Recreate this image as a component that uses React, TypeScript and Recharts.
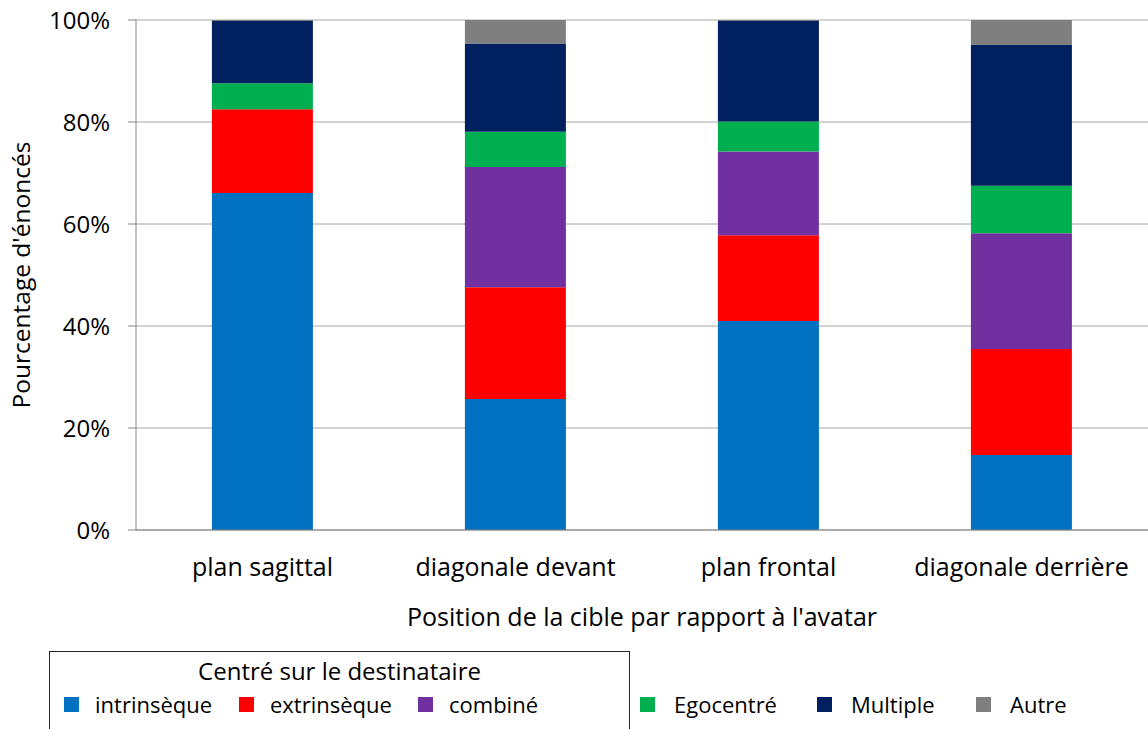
import { BarChart, Bar, XAxis, YAxis, CartesianGrid, Label } from "recharts";

const positions = ["plan sagittal", "diagonale devant", "plan frontal", "diagonale derrière"];
const intrinseque = [66.1, 25.7, 41.0, 14.7];
const extrinseque = [16.4, 21.9, 16.8, 20.8];
const combine = [0, 23.6, 16.4, 22.7];
const egocentre = [5.1, 6.9, 5.9, 9.3];
const multiple = [12.2, 17.3, 19.7, 27.7];
const autre = [0.2, 4.6, 0.2, 4.8];
const yTicks = [0, 20, 40, 60, 80, 100];

const series = [
  { key: "intrinseque", name: "intrinsèque", color: "#0070C0", values: intrinseque },
  { key: "extrinseque", name: "extrinsèque", color: "#FF0000", values: extrinseque },
  { key: "combine", name: "combiné", color: "#7030A0", values: combine },
  { key: "egocentre", name: "Egocentré", color: "#00B050", values: egocentre },
  { key: "multiple", name: "Multiple", color: "#002060", values: multiple },
  { key: "autre", name: "Autre", color: "#7F7F7F", values: autre },
];

// legend column starts (px), as Excel laid them out
const legendLeft = [64, 239, 418, 640, 817, 976];

const data = positions.map((p, i) => {
  const row: Record<string, string | number> = { position: p };
  series.forEach((s) => (row[s.key] = s.values[i]));
  return row;
});

const font = "'Open Sans', sans-serif";
const axisGrey = "#868686";

export default function App() {
  return (
    <div style={{ position: "absolute", left: 0, top: 0, width: 1148, height: 729, overflow: "hidden", background: "#fff", fontFamily: font }}>
      <BarChart width={1148} height={729} data={data} margin={{ top: 20, right: 0, left: 0, bottom: 99 }} barCategoryGap="30%">
        <CartesianGrid vertical={false} stroke="#a6a6a6" />
        <XAxis xAxisId="edge" type="number" domain={[0, 4]} ticks={[0, 1, 2, 3, 4]} height={0} axisLine={false} tickSize={8} tickLine={{ stroke: axisGrey }} tickFormatter={() => ""} />
        <XAxis dataKey="position" height={100} tickLine={false} tickSize={8} tickMargin={20} axisLine={{ stroke: axisGrey }} tick={{ fill: "#000", fontSize: 25, fontFamily: font }}>
          <Label value="Position de la cible par rapport à l'avatar" position="insideBottom" offset={4} style={{ fill: "#000", fontSize: 25, fontFamily: font }} />
        </XAxis>
        <YAxis width={136} domain={[0, 100]} ticks={yTicks} tickFormatter={(v) => `${v}%`} tickSize={8} tickMargin={18} axisLine={{ stroke: axisGrey }} tickLine={{ stroke: axisGrey }} tick={{ fill: "#000", fontSize: 24, fontFamily: font }}>
          <Label
            content={({ viewBox }: any) => (
              <text x={viewBox.x + 30} y={viewBox.y + viewBox.height / 2} transform={`rotate(-90 ${viewBox.x + 30} ${viewBox.y + viewBox.height / 2})`} textAnchor="middle" fontSize={24.5} fontFamily={font} fill="#000">
                Pourcentage d'énoncés
              </text>
            )}
          />
        </YAxis>
        {series.map((s) => (
          <Bar key={s.key} dataKey={s.key} name={s.name} stackId="a" fill={s.color} isAnimationActive={false} />
        ))}
      </BarChart>
      <div style={{ position: "absolute", left: 49, top: 651, width: 581, height: 100, border: "1px solid #262626", boxSizing: "border-box" }}>
        <div style={{ textAlign: "center", fontSize: 24, marginTop: 2, color: "#000" }}>Centré sur le destinataire</div>
      </div>
      {series.map((s, i) => (
        <div key={s.key} style={{ position: "absolute", left: legendLeft[i], top: 689, display: "flex", alignItems: "center", fontSize: 22, color: "#000", whiteSpace: "nowrap" }}>
          <span style={{ display: "inline-block", width: 15, height: 15, background: s.color, marginRight: i < 3 ? 16 : 19 }} />
          <span>{s.name}</span>
        </div>
      ))}
    </div>
  );
}
